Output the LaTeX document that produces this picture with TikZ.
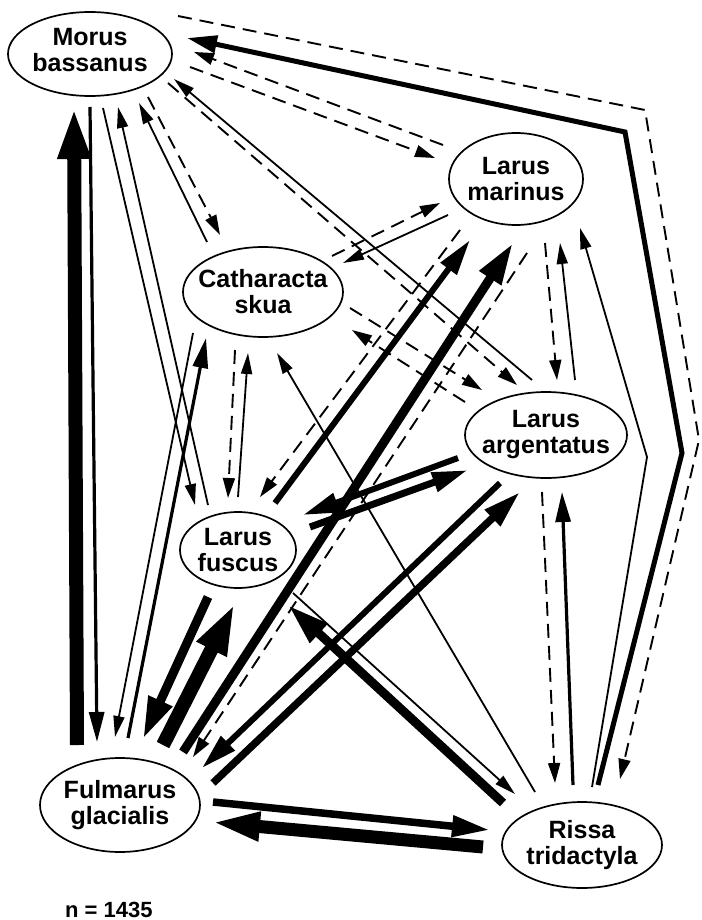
\documentclass[tikz,border=0pt]{standalone}
\usepackage{fontspec}
\setmainfont{Liberation Sans}
\usetikzlibrary{arrows.meta,calc,shapes.geometric}
\begin{document}
\begin{tikzpicture}[x=1pt,y=-1pt,line join=miter,
  bird/.style={ellipse,draw,line width=1.7pt,inner sep=0pt},
  lbl/.style={font=\fontsize{25}{26}\selectfont\bfseries,align=center,inner sep=0pt},
  ethin/.style={line width=1.8pt,-{Triangle[length=21pt,width=11pt]}},
  edash/.style={line width=1.9pt,dash pattern=on 14pt off 8pt,-{Triangle[length=20pt,width=12pt]}},
  emed/.style={line width=3.2pt,-{Triangle[length=30pt,width=15pt]}},
  ethick/.style={line width=6pt,-{Triangle[length=36pt,width=19pt]}},
  ebig/.style={line width=9pt,-{Triangle[length=42pt,width=24pt]}},
  evbig/.style={line width=14pt,-{Triangle[length=52pt,width=30pt]}}]
\useasboundingbox (0,0) rectangle (701,920);
% nodes
\node[bird,minimum width=164pt,minimum height=84pt] (M) at (90,54) {};
\node[lbl] (Mt) at ($(M)+(0,-4)$) {Morus\\bassanus};
\node[bird,minimum width=134pt,minimum height=92pt] (LM) at (516,179) {};
\node[lbl] (LMt) at (LM) {Larus\\marinus};
\node[bird,minimum width=160pt,minimum height=90pt] (CS) at (263,292) {};
\node[lbl] (CSt) at (CS) {Catharacta\\skua};
\node[bird,minimum width=162pt,minimum height=86pt] (LA) at (546,435) {};
\node[lbl] (LAt) at (LA) {Larus\\argentatus};
\node[bird,minimum width=116pt,minimum height=76pt] (LF) at (238,550) {};
\node[lbl] (LFt) at (LF) {Larus\\fuscus};
\node[bird,minimum width=160pt,minimum height=94pt] (FG) at (120,805) {};
\node[lbl] (FGt) at (FG) {Fulmarus\\glacialis};
\node[bird,minimum width=160pt,minimum height=86pt] (RT) at (582,845) {};
\node[lbl] (RTt) at (RT) {Rissa\\tridactyla};
\node[font=\fontsize{22}{24}\selectfont\bfseries,anchor=base west,inner sep=0pt] (n) at (65,917) {n = 1435};
% bend points
\coordinate (b1) at (645,110);
\coordinate (b2) at (699,440);
\coordinate (b3) at (682,453);
\coordinate (b4) at (625,132);
\coordinate (b5) at (647,457);
% Morus - Fulmarus
\draw[evbig] ($(FG)+(-43,-60)$) -- ($(M)+(-16,53)$);
\draw[emed] ($(M)+(0,53)$) -- ($(FG)+(-23,-63)$);
% Morus - Larus fuscus
\draw[ethin] ($(M)+(13,54)$) -- ($(LF)+(-43,-45)$);
\draw[ethin] ($(LF)+(-30,-45)$) -- ($(M)+(28,53)$);
% Catharacta - Fulmarus
\draw[ethin] ($(CS)+(-70,41)$) -- ($(FG)+(-5,-68)$);
\draw[emed] ($(FG)+(8,-67)$) -- ($(CS)+(-57,46)$);
% Catharacta - Morus
\draw[ethin] ($(CS)+(-56,-50)$) -- ($(M)+(49,49)$);
\draw[edash] ($(M)+(58,43)$) -- ($(CS)+(-43,-57)$);
% Larus marinus - Morus
\draw[edash] ($(LM)+(-73,-34)$) -- ($(M)+(104,-2)$);
\draw[edash] ($(M)+(100,13)$) -- ($(LM)+(-81,-21)$);
% Morus - Rissa (outer)
\draw[edash] ($(M)+(88,-38)$) -- (b1) -- (b2) -- ($(RT)+(38,-66)$);
\draw[line width=5pt,-{Triangle[length=30pt,width=17pt]}] ($(RT)+(16,-60)$) -- (b3) -- (b4) -- ($(M)+(97,-16)$);
% Larus argentatus - Morus
\draw[ethin] ($(LA)+(-14,-55)$) -- ($(M)+(84,25)$);
\draw[edash] ($(M)+(78,29)$) -- ($(LA)+(-29,-50)$);
% Catharacta - Larus marinus
\draw[edash] ($(CS)+(69,-36)$) -- ($(LM)+(-76,24)$);
\draw[ethin] ($(LM)+(-68,36)$) -- ($(CS)+(80,-29)$);
% Larus fuscus - Larus marinus
\draw[ethick] ($(LF)+(37,-47)$) -- ($(LM)+(-46,61)$);
\draw[edash] ($(LM)+(-56,51)$) -- ($(LF)+(22,-53)$);
% Fulmarus - Larus marinus
\draw[ebig] ($(FG)+(63,-53)$) -- ($(LM)+(-3,64)$);
\draw[edash] ($(LM)+(11,74)$) -- ($(FG)+(73,-48)$);
% Larus marinus - Larus argentatus
\draw[edash] ($(LM)+(29,64)$) -- ($(LA)+(11,-55)$);
\draw[ethin] ($(LA)+(29,-55)$) -- ($(LM)+(44,64)$);
% Rissa - Larus marinus
\draw[ethin] ($(RT)+(10,-58)$) -- (b5) -- ($(LM)+(64,49)$);
% Larus argentatus - Rissa
\draw[edash] ($(LA)+(-4,57)$) -- ($(RT)+(-27,-62)$);
\draw[emed] ($(RT)+(-9,-60)$) -- ($(LA)+(16,57)$);
% Catharacta - Larus argentatus
\draw[edash] ($(CS)+(87,16)$) -- ($(LA)+(-64,-45)$);
\draw[edash] ($(LA)+(-81,-33)$) -- ($(CS)+(89,38)$);
% Catharacta - Larus fuscus
\draw[edash] ($(CS)+(-28,58)$) -- ($(LF)+(-10,-52)$);
\draw[ethin] ($(LF)+(0,-53)$) -- ($(CS)+(-15,61)$);
% Rissa - Catharacta
\draw[ethin] ($(RT)+(-47,-53)$) -- ($(CS)+(14,61)$);
% Rissa - Larus fuscus
\draw[ebig] ($(RT)+(-79,-42)$) -- ($(LF)+(50,55)$);
\draw[ethin] ($(LF)+(55,43)$) -- ($(RT)+(-67,-51)$);
% Larus argentatus - Fulmarus
\draw[ethick] ($(LA)+(-46,48)$) -- ($(FG)+(82,-37)$);
\draw[line width=7.5pt,-{Triangle[length=38pt,width=21pt]}] ($(FG)+(93,-22)$) -- ($(LA)+(-26,57)$);
% Larus fuscus - Fulmarus
\draw[ebig] ($(LF)+(-30,47)$) -- ($(FG)+(23,-66)$);
\draw[evbig] ($(FG)+(43,-60)$) -- ($(LF)+(-3,53)$);
% Fulmarus - Rissa
\draw[line width=7.5pt,-{Triangle[length=38pt,width=20pt]}] ($(FG)+(93,-3)$) -- ($(RT)+(-92,-15)$);
\draw[line width=13pt,-{Triangle[length=50pt,width=26pt]}] ($(RT)+(-99,2)$) -- ($(FG)+(90,17)$);
% Larus argentatus - Larus fuscus
\draw[ethick] ($(LA)+(-88,23)$) -- ($(LF)+(65,-35)$);
\draw[line width=7pt,-{Triangle[length=36pt,width=19pt]}] ($(LF)+(72,-23)$) -- ($(LA)+(-78,35)$);
\end{tikzpicture}
\end{document}
